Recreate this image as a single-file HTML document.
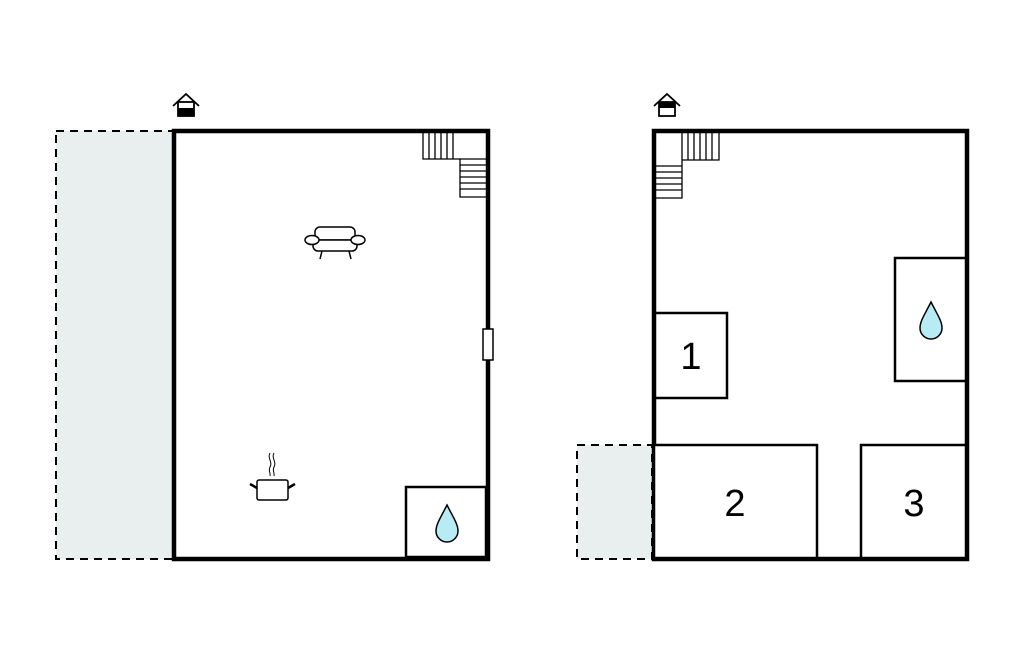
<!DOCTYPE html>
<html><head><style>body{margin:0;background:#fff}svg{display:block}</style></head><body>
<svg width="1024" height="652" viewBox="0 0 1024 652" xmlns="http://www.w3.org/2000/svg" font-family="Liberation Sans, sans-serif">
<rect x="56" y="131" width="117" height="428" fill="#e9eeee" stroke="#000" stroke-width="2" stroke-dasharray="8,6"/>
<rect x="174" y="131" width="314" height="428" fill="#fff" stroke="#000" stroke-width="4.5"/>
<g stroke="#000" stroke-width="1.3" fill="none">
<path d="M423 131V159H460V197H486"/>
<path d="M429 131V159M435 131V159M441 131V159M447 131V159M453 131V159"/>
<path d="M460 165H486M460 171H486M460 177H486M460 183H486M460 189H486M460 159H486"/>
</g>
<rect x="483" y="329" width="10" height="31" fill="#fff" stroke="#000" stroke-width="1.5"/>
<rect x="406" y="487" width="80" height="70" fill="#fff" stroke="#000" stroke-width="2.5"/>
<path d="M447 505 C441 517 436 524 436 531 A11 11 0 0 0 458 531 C458 524 453 517 447 505Z" fill="#b8ecf5" stroke="#000" stroke-width="1.5"/>
<g stroke="#000" stroke-width="1.5" fill="#fff">
<rect x="315" y="227" width="40" height="13" rx="5"/>
<rect x="313" y="240" width="44" height="11" rx="5"/>
<ellipse cx="312" cy="240" rx="7" ry="4.5"/>
<ellipse cx="358" cy="240" rx="7" ry="4.5"/>
<path d="M322 251l-2 8M349 251l2 8"/>
</g>
<g stroke="#000" fill="none">
<rect x="257" y="480" width="31" height="20" rx="2" stroke-width="1.5" fill="#fff"/>
<path d="M250 484l7 4M295 484l-7 4" stroke-width="2.5"/>
<path d="M270 453c-3 5 3 9 0 14c-2 4 1 6 0 9M274 453c-3 5 3 9 0 14c-2 4 1 6 0 9" stroke-width="1"/>
</g>
<g stroke="#000" fill="none" stroke-width="1.8">
<path d="M173 106L186 94L199 106"/>
<rect x="178" y="102" width="16" height="14"/>
</g>
<rect x="178" y="108" width="16" height="8" fill="#000"/>
<g stroke="#000" fill="none" stroke-width="1.8">
<path d="M654 106L667 94L680 106"/>
<rect x="659" y="102" width="16" height="14"/>
</g>
<rect x="659" y="102" width="16" height="6" fill="#000"/>
<rect x="577" y="445" width="75" height="114" fill="#e9eeee" stroke="#000" stroke-width="2" stroke-dasharray="8,6"/>
<rect x="654" y="131" width="313" height="428" fill="#fff" stroke="#000" stroke-width="4.5"/>
<g stroke="#000" stroke-width="1.3" fill="none">
<path d="M656 198H682V160H719V131"/>
<path d="M682 131V160M688 131V160M694 131V160M700 131V160M706 131V160M712 131V160"/>
<path d="M656 166H682M656 172H682M656 178H682M656 184H682M656 190H682"/>
</g>
<g stroke="#000" stroke-width="2.5" fill="#fff">
<rect x="655" y="313" width="72" height="85"/>
<rect x="895" y="258" width="71" height="123"/>
<rect x="654" y="445" width="163" height="113"/>
<rect x="861" y="445" width="105" height="113"/>
</g>
<path d="M931 302 C925 314 920 321 920 328 A11 11 0 0 0 942 328 C942 321 937 314 931 302Z" fill="#b8ecf5" stroke="#000" stroke-width="1.5"/>
<g font-size="38" text-anchor="middle" fill="#000">
<text x="691" y="369">1</text>
<text x="735" y="516">2</text>
<text x="914" y="516">3</text>
</g>
</svg>
</body></html>
